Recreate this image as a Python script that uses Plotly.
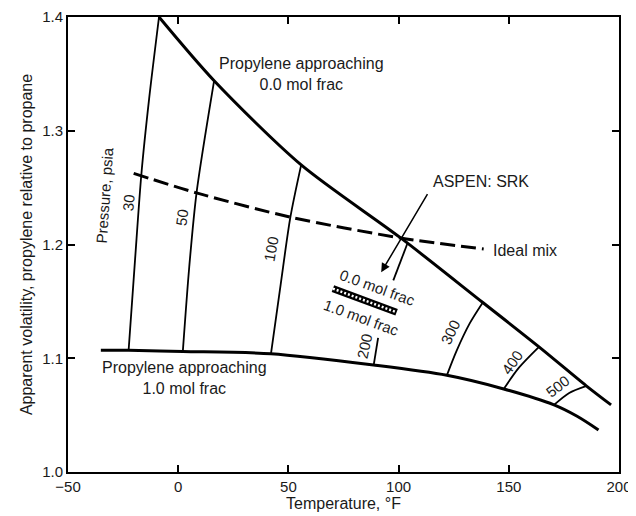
import plotly.graph_objects as go

# ---------------- data ----------------
# Propylene approaching 0.0 mol frac (upper boundary)
upper_T = [-8.7, 16.3, 55.8, 100.8, 138.2, 163.7, 185.0, 196.4]
upper_a = [1.400, 1.344, 1.270, 1.206, 1.149, 1.110, 1.076, 1.059]

# Propylene approaching 1.0 mol frac (lower boundary)
lower_T = [-35.1, -22.5, 2.1, 42.1, 88.7, 121.9, 147.7, 170.5, 181.0, 190.7]
lower_a = [1.107, 1.107, 1.106, 1.104, 1.094, 1.085, 1.073, 1.059, 1.049, 1.037]

# Ideal mix (dashed)
ideal_T = [-20.2, 8.3, 50.9, 100.8, 138.6]
ideal_a = [1.2625, 1.2454, 1.2241, 1.2058, 1.196]

# Isobars (psia)
p30_T = [-22.5, -19.6, -16.7, -13.2, -8.7]
p30_a = [1.107, 1.186, 1.262, 1.328, 1.400]
p50_T = [2.1, 5.0, 8.3, 16.3]
p50_a = [1.106, 1.180, 1.245, 1.344]
p100_T = [42.1, 46.5, 50.9, 55.8]
p100_a = [1.104, 1.165, 1.224, 1.270]
p200_T = [88.7, 90.7, None, 97.6, 103.9]
p200_a = [1.094, 1.118, None, 1.1685, 1.2004]
p300_T = [121.9, 126.3, 132.2, 138.2]
p300_a = [1.085, 1.1065, 1.1304, 1.149]
p400_T = [147.7, 154.6, 163.7]
p400_a = [1.073, 1.0917, 1.110]
p500_T = [170.5, 177.4, 185.0]
p500_a = [1.059, 1.0695, 1.0755]

# ASPEN: SRK symbol bar (between 0.0 and 1.0 mol frac labels)
srk_T = [70.2, 99.1]
srk_a = [1.1612, 1.1404]

x_ticks = [-50, 0, 50, 100, 150, 200]
y_ticks = [1.0, 1.1, 1.2, 1.3, 1.4]
y_ticktext = ["1.0", "1.1", "1.2", "1.3", "1.4"]

FONT = "Liberation Sans, Arial, Helvetica, sans-serif"
TXT = "#1a1a1a"

fig = go.Figure()

def line(x, y, width, dash=None, color="black", shape="spline"):
    fig.add_trace(go.Scatter(
        x=x, y=y, mode="lines", hoverinfo="skip", showlegend=False,
        line=dict(color=color, width=width, dash=dash, shape=shape, smoothing=0.8),
        connectgaps=False))

for tx, ay in [(p30_T, p30_a), (p50_T, p50_a), (p100_T, p100_a), (p200_T, p200_a),
               (p300_T, p300_a), (p400_T, p400_a), (p500_T, p500_a)]:
    line(tx, ay, 1.8)

line(upper_T, upper_a, 3)
line(lower_T, lower_a, 3)
line(ideal_T, ideal_a, 3, dash="15px,6px")

# hatched SRK bar
line(srk_T, srk_a, 7, shape="linear")
line(srk_T, srk_a, 2.5, dash="2px,2px", color="white", shape="linear")

ann = []
def text(x, y, s, size=16, angle=0, xanchor="center"):
    ann.append(dict(x=x, y=y, xref="x", yref="y", text=s, showarrow=False,
                    textangle=angle, xanchor=xanchor, yanchor="middle",
                    font=dict(family=FONT, size=size, color=TXT)))

text(56.1, 1.3503, "Propylene approaching<br>0.0 mol frac")
text(2.7, 1.0825, "Propylene approaching<br>1.0 mol frac")
text(137.3, 1.2554, "ASPEN: SRK")
text(141.8, 1.1951, "Ideal mix", xanchor="left")
text(90.3, 1.1619, "0.0 mol frac", size=15, angle=20)
text(83.0, 1.1360, "1.0 mol frac", size=15, angle=20)
text(-33.3, 1.2438, "Pressure, psia", size=15, angle=-86)
text(-22.3, 1.2365, "30", size=15, angle=-85)
text(1.8, 1.2235, "50", size=15, angle=-82)
text(42.1, 1.1966, "100", size=15, angle=-80)
text(84.7, 1.1109, "200", size=15, angle=-78)
text(123.4, 1.1227, "300", size=15, angle=-65)
text(151.5, 1.0961, "400", size=15, angle=-55)
text(172.0, 1.0755, "500", size=15, angle=-38)

# arrow from ASPEN: SRK to the symbol
ann.append(dict(x=92.1, y=1.1756, ax=113.5, ay=1.2456, xref="x", yref="y",
                axref="x", ayref="y", text="", showarrow=True,
                arrowhead=2, arrowsize=1.2, arrowwidth=1.5, arrowcolor="black"))

axis_common = dict(
    showgrid=False, zeroline=False, showline=True, linewidth=2, linecolor="black",
    mirror="ticks", ticks="inside", ticklen=7, tickwidth=1.5, tickcolor="black",
    tickfont=dict(family=FONT, size=15, color=TXT), automargin=False,
)

# page has an 8px body margin, so the figure is 628x508 and margins are offset
fig.update_layout(
    width=628, height=508,
    margin=dict(l=60, r=17, t=9, b=44),
    paper_bgcolor="white", plot_bgcolor="white",
    annotations=ann,
    xaxis=dict(range=[-50, 200], tickvals=x_ticks, **axis_common,
               title=dict(text="Temperature, °F", standoff=2,
                          font=dict(family=FONT, size=16, color=TXT))),
    yaxis=dict(range=[1.0, 1.4], tickvals=y_ticks, ticktext=y_ticktext, **axis_common,
               title=dict(text="Apparent volatility, propylene relative to propane", standoff=6,
                          font=dict(family=FONT, size=16, color=TXT))),
)

fig.write_html("out.html")
